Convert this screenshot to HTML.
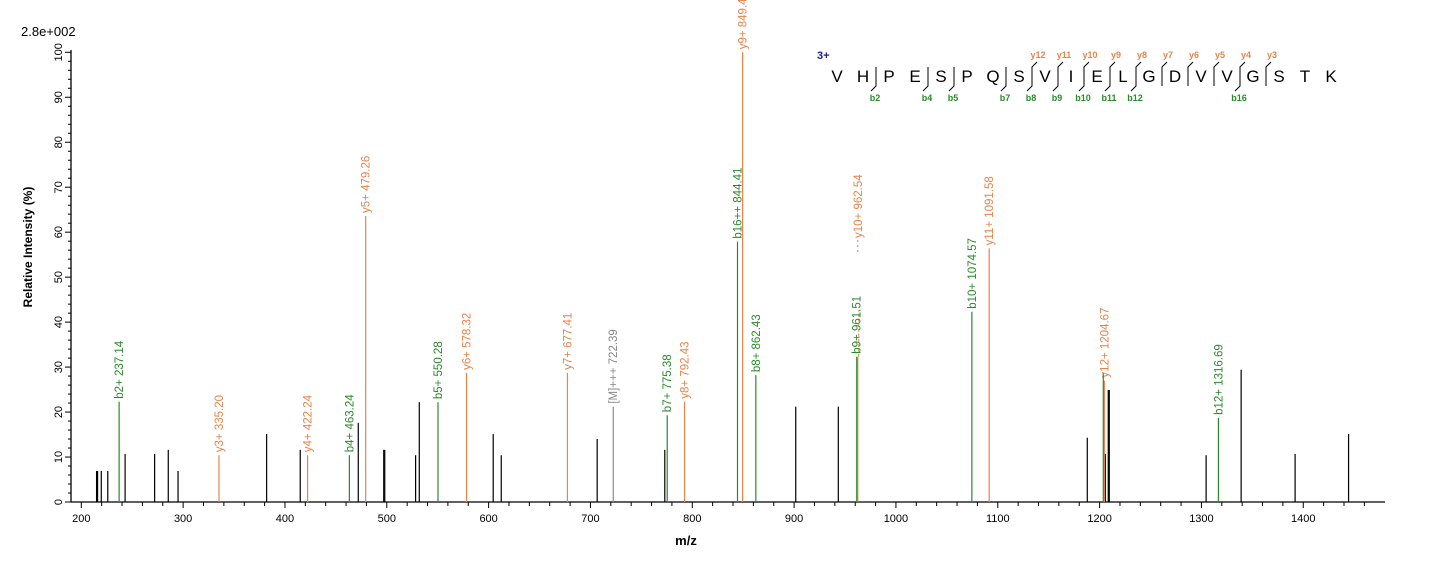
<!DOCTYPE html>
<html><head><meta charset="utf-8"><style>
body{margin:0;background:#fff;}
svg{display:block;font-family:"Liberation Sans",Arial,sans-serif;}
</style></head><body>
<svg id="chart" width="1436" height="562" viewBox="0 0 1436 562">
<text x="21" y="36" font-size="13" fill="#000">2.8e+002</text>
<text transform="translate(32,247) rotate(-90)" text-anchor="middle" font-size="12" font-weight="bold">Relative   Intensity (%)</text>
<text x="686" y="545" text-anchor="middle" font-size="13" font-weight="bold">m/z</text>
<g id="axes"></g><g id="peaks"></g><g id="seq"></g>
</svg>
<script>
const blackMz=[215,216,219.6,226,243,272,285.4,295,382,415,472,497,498,528.3,531.9,604.5,612.4,706.6,773,901.6,943.4,1187.9,1205.6,1208.5,1209.5,1304.6,1339,1392,1444.5];
const blackInt=[6.9,6.9,6.9,6.9,10.7,10.7,11.6,6.9,15.1,11.6,17.6,11.6,11.6,10.4,22.2,15.1,10.4,14,11.6,21.2,21.2,14.3,10.7,24.9,24.9,10.4,29.4,10.7,15.1];
const ionMz=[237.14,335.20,422.24,463.24,479.26,550.28,578.32,677.41,722.39,775.38,792.43,844.41,849.43,862.43,962.54,961.51,1074.57,1091.58,1204.67,1203.6,1316.69];
const ionInt=[22.3,10.4,10.4,10.4,63.6,22.2,28.7,28.7,21.2,19.3,22.3,57.9,100,28.2,42.7,32.3,42.3,56.4,27,28.6,18.7];
const ionLabel=["b2+ 237.14","y3+ 335.20","y4+ 422.24","b4+ 463.24","y5+ 479.26","b5+ 550.28","y6+ 578.32","y7+ 677.41","[M]+++ 722.39","b7+ 775.38","y8+ 792.43","b16++ 844.41","y9+ 849.43","b8+ 862.43","y10+ 962.54","b9+ 961.51","b10+ 1074.57","y11+ 1091.58","y12+ 1204.67","","b12+ 1316.69"];
const ionType=["b","y","y","b","y","b","y","y","m","b","y","b","y","b","y","b","b","y","y","b","b"];
const xTicks=[200,300,400,500,600,700,800,900,1000,1100,1200,1300,1400];
const yTicks=[0,10,20,30,40,50,60,70,80,90,100];
const seqLetters=["V","H","P","E","S","P","Q","S","V","I","E","L","G","D","V","V","G","S","T","K"];
const bBreaks=[2,4,5,7,8,9,10,11,12,16];
const yBreaks=[12,11,10,9,8,7,6,5,4,3];

const NS="http://www.w3.org/2000/svg";
const X=m=>81.3+(m-200)*1.0183;
const Y=v=>502-v*4.497;
const col={b:"#2a8a2a",y:"#e8834a",m:"#888"};
function mk(tag,attrs,parent,txt){const e=document.createElementNS(NS,tag);for(const k in attrs)e.setAttribute(k,attrs[k]);if(txt!==undefined)e.textContent=txt;parent.appendChild(e);return e;}
const axes=document.getElementById('axes'),peaks=document.getElementById('peaks'),seq=document.getElementById('seq');
let a=mk('line',{x1:71,y1:502,x2:1385,y2:502,stroke:"#000","stroke-width":1.3},axes);

a=mk('line',{x1:71,y1:502,x2:71,y2:50,stroke:"#000","stroke-width":1.3},axes);

for(let m=200;m<=1470;m+=20){const major=(m%100===0);mk('line',{x1:X(m),y1:502,x2:X(m),y2:major?508:506,stroke:"#000"},axes);}
for(let v=0;v<=100;v+=2){const major=(v%10===0);mk('line',{x1:major?65:68,y1:Y(v),x2:71,y2:Y(v),stroke:"#000"},axes);}
xTicks.forEach(t=>{const e=mk('text',{x:X(t),y:522,"text-anchor":"middle","font-size":11},axes,String(t));
});
yTicks.forEach(t=>{const e=mk('text',{transform:`translate(62,${Y(t)}) rotate(-90)`,"text-anchor":"middle","font-size":11},axes,String(t));
});
blackMz.forEach((m,i)=>{const e=mk('line',{x1:X(m),y1:502,x2:X(m),y2:Y(blackInt[i]),stroke:"#000","stroke-width":1.2},peaks);
});
ionMz.forEach((m,i)=>{const c=col[ionType[i]];const top=Y(ionInt[i]);
const isY10=ionLabel[i].startsWith("y10+");
const e=mk('line',{x1:X(m),y1:502,x2:X(m),y2:isY10?Y(32.3):top,stroke:c,"stroke-width":1.2},peaks);

if(!ionLabel[i])return;
let ly=top-3;
if(isY10){mk('line',{x1:X(m)+1,y1:Y(32.3),x2:X(m)+1,y2:top,stroke:c,"stroke-dasharray":"3,2"},peaks);
mk('line',{x1:X(m),y1:252,x2:X(m),y2:240,stroke:"#999","stroke-dasharray":"2,3"},peaks);ly=238;}
const t=mk('text',{transform:`translate(${X(m)+4},${ly}) rotate(-90)`,"font-size":11.5,fill:c},peaks,ionLabel[i]);
});
// sequence
let s=mk('text',{x:817,y:59,"font-size":11,"font-weight":"bold",fill:"#1a1a9a"},seq,"3+");

const sx=i=>837+i*26;
seqLetters.forEach((L,i)=>{const e=mk('text',{x:sx(i),y:82,"text-anchor":"middle","font-size":17},seq,L);
});
bBreaks.forEach(b=>{const x=sx(b-1)+13;mk('polyline',{points:`${x},67 ${x},86 ${x-5},91`,fill:"none",stroke:"#000"},seq);
const e=mk('text',{x:x-1,y:101,"font-size":9,"font-weight":"bold",fill:"#2a8a2a","text-anchor":"middle"},seq,"b"+b);
});
yBreaks.forEach(y=>{const x=sx(20-y-1)+13;mk('polyline',{points:`${x+5},62 ${x},67 ${x},86`,fill:"none",stroke:"#000"},seq);
const e=mk('text',{x:x+6,y:58,"font-size":9,"font-weight":"bold",fill:"#e8834a","text-anchor":"middle"},seq,"y"+y);
});
</script>
</body></html>
